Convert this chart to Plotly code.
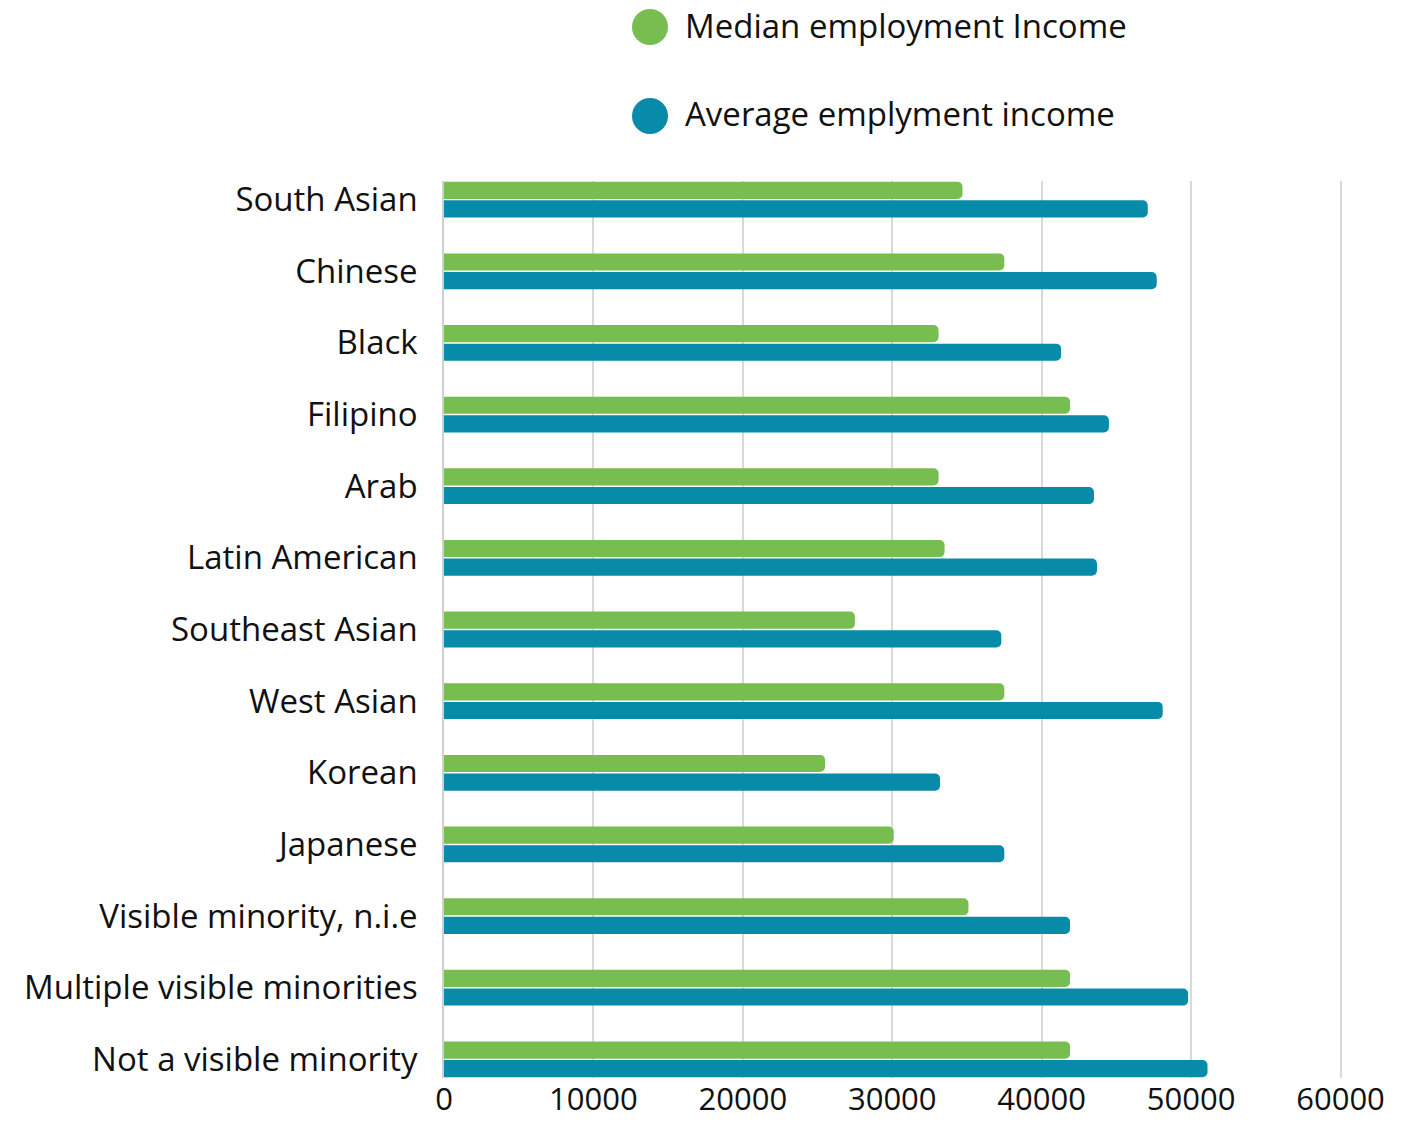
import plotly.graph_objects as go

# Employment income by visible minority group
groups = [
    "South Asian", "Chinese", "Black", "Filipino", "Arab", "Latin American",
    "Southeast Asian", "West Asian", "Korean", "Japanese",
    "Visible minority, n.i.e", "Multiple visible minorities", "Not a visible minority",
]
median_income = [34700, 37500, 33100, 41900, 33100, 33500, 27500, 37500, 25500, 30100, 35100, 41900, 41900]
average_income = [47100, 47700, 41300, 44500, 43500, 43700, 37300, 48100, 33200, 37500, 41900, 49800, 51100]
x_ticks = [0, 10000, 20000, 30000, 40000, 50000, 60000]

series_names = ["Median employment Income", "Average emplyment income"]
GREEN = "#77bd4f"
BLUE = "#078ba9"
FONT = "Open Sans"

W, H = 1411, 1125
L, R, T, B = 444, 66, 181, 47

fig = go.Figure()
fig.add_trace(go.Bar(y=groups, x=median_income, orientation="h", name=series_names[0],
                     marker=dict(color=GREEN, line=dict(width=0)), showlegend=False))
fig.add_trace(go.Bar(y=groups, x=average_income, orientation="h", name=series_names[1],
                     marker=dict(color=BLUE, line=dict(width=0)), showlegend=False))

bargap = 0.48
half = (1 - bargap) / 2
fig.update_layout(
    width=W, height=H,
    margin=dict(l=L, r=R, t=T, b=B),
    paper_bgcolor="white", plot_bgcolor="white",
    barmode="group", bargap=bargap, bargroupgap=0.08, barcornerradius=5,
    font=dict(family=FONT, size=33, color="#111111"),
    xaxis=dict(range=[0, 60300], tickvals=x_ticks, ticktext=[str(v) for v in x_ticks],
               showgrid=True, gridcolor="#d9d9d9", gridwidth=1.5, zeroline=False,
               showline=False, ticks="", tickfont=dict(size=31), automargin=False),
    yaxis=dict(type="category", categoryorder="array", categoryarray=groups,
               range=[len(groups) - 1 + half, -half], showgrid=False, zeroline=False,
               showline=True, linecolor="#d0d0d0", linewidth=1.5,
               ticks="", ticklabelstandoff=18, tickfont=dict(size=33), automargin=False),
)

# Legend drawn with large circular swatches
pw, ph = W - L - R, H - T - B
for i, (name, color) in enumerate(zip(series_names, [GREEN, BLUE])):
    ycen = 27 + 89 * i
    fig.add_shape(type="circle", xref="paper", yref="paper",
                  xsizemode="pixel", ysizemode="pixel",
                  xanchor=(650 - L) / pw, yanchor=1 + (T - ycen) / ph,
                  x0=-18, x1=18, y0=-18, y1=18, fillcolor=color, line=dict(width=0))
    fig.add_annotation(text=name, xref="paper", yref="paper",
                       x=(683 - L) / pw, y=1 + (T - ycen + 2) / ph,
                       xanchor="left", yanchor="middle", showarrow=False,
                       font=dict(family=FONT, size=33, color="#111111"))

fig.write_html("out.html")
